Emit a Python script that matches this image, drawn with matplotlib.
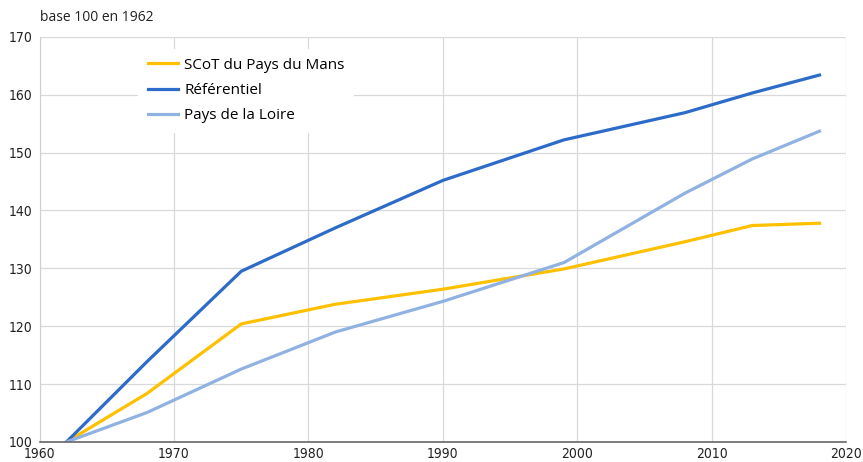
import matplotlib.pyplot as plt

# Population index, base 100 in 1962 (census years)
years = [1962, 1968, 1975, 1982, 1990, 1999, 2008, 2013, 2018]
scot = [100, 108.4, 120.4, 123.8, 126.4, 129.9, 134.6, 137.4, 137.8]
referentiel = [100, 113.9, 129.5, 137.0, 145.2, 152.2, 156.9, 160.3, 163.4]
pays_loire = [100, 105.1, 112.6, 119.0, 124.3, 131.0, 143.0, 148.9, 153.7]

plt.rcParams["font.family"] = ["Open Sans", "DejaVu Sans"]

fig = plt.figure(figsize=(8.63, 4.62), dpi=100)
ax = fig.add_axes([0.0458, 0.0433, 0.935, 0.877])

ax.plot(years, scot, color="#FFC000", linewidth=2.3, label="SCoT du Pays du Mans")
ax.plot(years, referentiel, color="#2D6BC8", linewidth=2.3, label="Référentiel")
ax.plot(years, pays_loire, color="#8FB2E2", linewidth=2.3, label="Pays de la Loire")

ax.set_xlim(1960, 2020)
ax.set_ylim(100, 170)
ax.set_xticks(range(1960, 2021, 10))
ax.set_yticks(range(100, 171, 10))
ax.grid(True, color="#d9d9d9", linewidth=0.9)
ax.set_axisbelow(True)

for side in ["top", "right"]:
    ax.spines[side].set_visible(False)
ax.spines["left"].set_color("#d0d0d0")
ax.spines["bottom"].set_color("#666666")
ax.spines["bottom"].set_linewidth(1.2)
ax.tick_params(axis="both", length=0, labelsize=10, colors="#222222")
ax.tick_params(axis="x", pad=3.5)
ax.tick_params(axis="y", pad=5)
for lbl in ax.get_xticklabels() + ax.get_yticklabels():
    lbl.set_fontfamily("DejaVu Sans")
    lbl.set_fontstretch("condensed")

ax.text(0, 1.03, "base 100 en 1962", transform=ax.transAxes, fontsize=10,
        ha="left", va="bottom", color="#222222")

leg = ax.legend(loc="upper left", bbox_to_anchor=(0.113, 0.99), frameon=True,
                fontsize=11, handlelength=2.0, handletextpad=0.4,
                labelspacing=0.68, borderpad=0.6)
leg.get_frame().set_facecolor("white")
leg.get_frame().set_edgecolor("none")
leg.get_frame().set_alpha(1.0)

fig.savefig("out.png", dpi=100)
